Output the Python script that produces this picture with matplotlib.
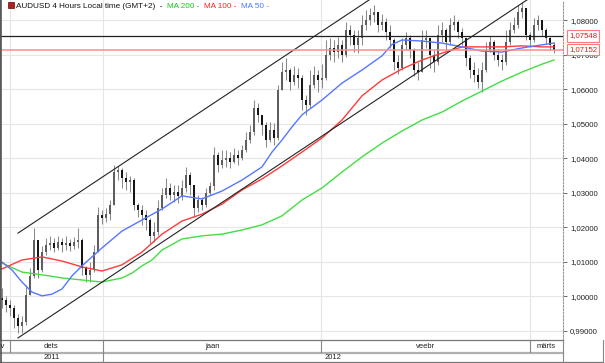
import matplotlib
matplotlib.use('Agg')
import matplotlib.pyplot as plt
import numpy as np
from matplotlib import transforms
from matplotlib.lines import Line2D
from matplotlib.patches import Rectangle
from matplotlib.offsetbox import TextArea, HPacker, AnchoredOffsetbox

plt.rcParams['font.family'] = ['Liberation Sans', 'DejaVu Sans']

# ---------------- data ----------------
title = "AUDUSD 4 Hours Local time (GMT+2)"
ma_titles = ["MA 200", "MA 100", "MA 50"]

first_open = 0.9995
closes = [
    0.9989, 0.9975, 0.9966, 0.9937, 0.9914, 0.9925, 1.0004, 1.0059, 1.0163, 1.0076,
    1.0128, 1.0149, 1.0154, 1.0140, 1.0157, 1.0149, 1.0154, 1.0146, 1.0157, 1.0163,
    1.0082, 1.0062, 1.0076, 1.0128, 1.0236, 1.0227, 1.0238, 1.0265, 1.0360, 1.0366,
    1.0343, 1.0331, 1.0337, 1.0265, 1.0250, 1.0236, 1.0221, 1.0175, 1.0186, 1.0256,
    1.0294, 1.0314, 1.0294, 1.0302, 1.0291, 1.0314, 1.0352, 1.0323, 1.0256, 1.0279,
    1.0265, 1.0299, 1.0320, 1.0410, 1.0381, 1.0395, 1.0401, 1.0389, 1.0410, 1.0401,
    1.0424, 1.0453, 1.0476, 1.0546, 1.0526, 1.0497, 1.0453, 1.0482, 1.0459, 1.0598,
    1.0650, 1.0656, 1.0621, 1.0642, 1.0633, 1.0569, 1.0555, 1.0613, 1.0642, 1.0627,
    1.0633, 1.0700, 1.0720, 1.0708, 1.0729, 1.0700, 1.0772, 1.0758, 1.0729, 1.0749,
    1.0787, 1.0801, 1.0816, 1.0824, 1.0787, 1.0795, 1.0766, 1.0743, 1.0679, 1.0662,
    1.0729, 1.0749, 1.0714, 1.0656, 1.0650, 1.0743, 1.0749, 1.0700, 1.0679, 1.0758,
    1.0772, 1.0737, 1.0787, 1.0795, 1.0766, 1.0749, 1.0691, 1.0656, 1.0642, 1.0621,
    1.0656, 1.0714, 1.0737, 1.0700, 1.0685, 1.0679, 1.0737, 1.0772, 1.0787, 1.0824,
    1.0836, 1.0758, 1.0743, 1.0787, 1.0801, 1.0772, 1.0749, 1.0729, 1.0715]
highs = [
    1.0024, 1.0001, 0.9989, 0.9975, 0.9948, 0.9943, 1.0033, 1.0082, 1.0198, 1.0163,
    1.0146, 1.0169, 1.0175, 1.0169, 1.0175, 1.0169, 1.0175, 1.0166, 1.0172, 1.0198,
    1.0169, 1.0088, 1.0099, 1.0149, 1.0259, 1.0250, 1.0256, 1.0279, 1.0381, 1.0378,
    1.0372, 1.0360, 1.0349, 1.0343, 1.0270, 1.0265, 1.0250, 1.0227, 1.0215, 1.0279,
    1.0314, 1.0343, 1.0328, 1.0323, 1.0323, 1.0337, 1.0375, 1.0360, 1.0323, 1.0294,
    1.0288, 1.0314, 1.0331, 1.0433, 1.0418, 1.0424, 1.0424, 1.0418, 1.0430, 1.0424,
    1.0439, 1.0476, 1.0497, 1.0569, 1.0560, 1.0526, 1.0505, 1.0505, 1.0502, 1.0613,
    1.0679, 1.0691, 1.0662, 1.0668, 1.0662, 1.0642, 1.0584, 1.0656, 1.0668, 1.0656,
    1.0673, 1.0743, 1.0749, 1.0743, 1.0752, 1.0743, 1.0795, 1.0787, 1.0772, 1.0772,
    1.0816, 1.0830, 1.0836, 1.0845, 1.0824, 1.0818, 1.0807, 1.0787, 1.0749, 1.0700,
    1.0749, 1.0766, 1.0758, 1.0720, 1.0679, 1.0772, 1.0772, 1.0749, 1.0714, 1.0787,
    1.0795, 1.0778, 1.0807, 1.0816, 1.0801, 1.0778, 1.0743, 1.0700, 1.0679, 1.0662,
    1.0679, 1.0737, 1.0755, 1.0743, 1.0714, 1.0702, 1.0772, 1.0795, 1.0810, 1.0845,
    1.0853, 1.0830, 1.0766, 1.0807, 1.0816, 1.0801, 1.0778, 1.0752, 1.0737]
lows = [
    0.9966, 0.9954, 0.9943, 0.9908, 0.9893, 0.9893, 0.9917, 1.0012, 1.0053, 1.0053,
    1.0070, 1.0120, 1.0134, 1.0128, 1.0134, 1.0128, 1.0134, 1.0131, 1.0137, 1.0140,
    1.0062, 1.0041, 1.0041, 1.0070, 1.0134, 1.0209, 1.0215, 1.0221, 1.0265, 1.0337,
    1.0314, 1.0308, 1.0302, 1.0250, 1.0230, 1.0207, 1.0192, 1.0154, 1.0157, 1.0178,
    1.0250, 1.0285, 1.0279, 1.0273, 1.0270, 1.0279, 1.0302, 1.0294, 1.0230, 1.0244,
    1.0250, 1.0259, 1.0294, 1.0308, 1.0360, 1.0372, 1.0375, 1.0372, 1.0386, 1.0381,
    1.0395, 1.0418, 1.0444, 1.0468, 1.0505, 1.0468, 1.0433, 1.0447, 1.0439, 1.0453,
    1.0598, 1.0627, 1.0598, 1.0613, 1.0604, 1.0540, 1.0526, 1.0546, 1.0604, 1.0592,
    1.0604, 1.0627, 1.0685, 1.0679, 1.0691, 1.0679, 1.0694, 1.0729, 1.0708, 1.0705,
    1.0729, 1.0772, 1.0787, 1.0795, 1.0766, 1.0772, 1.0743, 1.0720, 1.0656, 1.0644,
    1.0656, 1.0714, 1.0691, 1.0639, 1.0627, 1.0650, 1.0720, 1.0662, 1.0650, 1.0671,
    1.0737, 1.0714, 1.0729, 1.0772, 1.0749, 1.0729, 1.0668, 1.0633, 1.0621, 1.0604,
    1.0592, 1.0650, 1.0708, 1.0685, 1.0668, 1.0656, 1.0671, 1.0729, 1.0763, 1.0778,
    1.0807, 1.0743, 1.0723, 1.0737, 1.0772, 1.0755, 1.0731, 1.0714, 1.0705]

ma200_idx = [0, 5, 10, 15, 20, 25, 30, 32.5, 35, 37.5, 40, 45, 50, 55, 60, 65, 70, 75,
             80, 85, 90, 95, 100, 105, 110, 115, 120, 125, 130, 135, 138]
ma200 = [1.0096, 1.0070, 1.0062, 1.0053, 1.0047, 1.0041, 1.0053, 1.0067, 1.0088, 1.0105,
         1.0134, 1.0166, 1.0175, 1.0180, 1.0192, 1.0207, 1.0233, 1.0279, 1.0314, 1.0360,
         1.0404, 1.0444, 1.0479, 1.0511, 1.0534, 1.0566, 1.0595, 1.0624, 1.0650, 1.0673,
         1.0685]
ma100_idx = [0, 5, 10, 15, 20, 25, 30, 35, 40, 45, 50, 55, 60, 65, 70, 75, 80, 85,
             90, 95, 100, 105, 110, 115, 120, 125, 130, 135, 138]
ma100 = [1.0079, 1.0105, 1.0114, 1.0102, 1.0085, 1.0073, 1.0091, 1.0128, 1.0180, 1.0218,
         1.0238, 1.0267, 1.0308, 1.0340, 1.0378, 1.0418, 1.0459, 1.0511, 1.0581, 1.0627,
         1.0659, 1.0685, 1.0705, 1.0723, 1.0723, 1.0723, 1.0726, 1.0723, 1.0723]
ma50_idx = [0, 2.5, 5, 7.5, 10, 12.5, 15, 17.5, 20, 25, 30, 35, 40, 45, 50, 55, 60, 65,
            67.5, 70, 72.5, 75, 80, 85, 90, 95, 97.5, 100, 105, 110, 115, 120, 125, 130,
            135, 138]
ma50 = [1.0099, 1.0076, 1.0041, 1.0012, 1.0001, 1.0006, 1.0021, 1.0059, 1.0088, 1.0140,
        1.0189, 1.0221, 1.0253, 1.0291, 1.0282, 1.0305, 1.0337, 1.0375, 1.0418, 1.0453,
        1.0491, 1.0526, 1.0569, 1.0618, 1.0656, 1.0697, 1.0730, 1.0743, 1.0740, 1.0734,
        1.0723, 1.0711, 1.0708, 1.0720, 1.0729, 1.0734]

# channel trend lines (anchor bars, prices)
channel_x = [4, 132]
upper_channel = [1.0183, 1.1169]
lower_channel = [0.9879, 1.0865]

levels = [1.07548, 1.07152]
level_labels = ["1,07548", "1,07152"]

yticks = [0.99, 1.00, 1.01, 1.02, 1.03, 1.04, 1.05, 1.06, 1.07, 1.08]
month_starts = [2, 25.25, 79.75, 132]          # dets, jaan, veebr, märts
month_labels = ["nov", "dets", "jaan", "veebr", "märts"]
year_labels = ["2011", "2012"]

# ---------------- figure ----------------
W, H = 605, 363
fig = plt.figure(figsize=(W / 100, H / 100), dpi=100)
ax = fig.add_axes([0, (H - 340) / H, 563 / W, 340 / H])
ax.set_xlim(-0.5, 140.25)
ax.set_ylim(0.9873, 1.0859)

# grid
for v in yticks:
    ax.axhline(v, color='#e6e6e6', lw=0.8, zorder=0)
for m in month_starts:
    ax.axvline(m, color='#e6e6e6', lw=0.8, zorder=0)

# candles
c = np.array(closes)
o = np.array([first_open] + closes[:-1])
h = np.maximum.reduce([np.array(highs), o, c])
l = np.minimum.reduce([np.array(lows), o, c])
xi = np.arange(len(c))
ax.vlines(xi, l, h, color='#8a8a8a', lw=0.75, zorder=2)
up = c >= o
body_lo = np.minimum(o, c)
body_h = np.maximum(np.abs(c - o), 0.00012)
ax.bar(xi[up], body_h[up], bottom=body_lo[up], width=0.65, color='#5e5e5e', lw=0, zorder=3)
ax.bar(xi[~up], body_h[~up], bottom=body_lo[~up], width=0.65, color='#151515', lw=0, zorder=3)

# moving averages
ax.plot(ma200_idx, ma200, color='#44dd44', lw=1.0, zorder=4)
ax.plot(ma100_idx, ma100, color='#ff3b3b', lw=1.0, zorder=4)
ax.plot(ma50_idx, ma50, color='#5577ff', lw=1.0, zorder=4)

# channel
ax.plot(channel_x, upper_channel, color='#222222', lw=0.8, zorder=5)
ax.plot(channel_x, lower_channel, color='#222222', lw=0.8, zorder=5)

# horizontal levels
ax.axhline(levels[0], color='#222222', lw=0.9, zorder=5)
ax.axhline(levels[1], color='#ff8c8c', lw=1.1, zorder=5)

# axis styling
ax.set_xticks([])
ax.yaxis.tick_right()
ax.set_yticks(yticks)
ax.set_yticklabels([f"{v:.5f}".replace('.', ',') for v in yticks])
ax.tick_params(axis='y', direction='out', length=3, width=0.6, colors='#555555',
               labelcolor='#222222', labelsize=5.6, pad=2)
ax.spines['top'].set_visible(False)
ax.spines['left'].set_color('#555555')
ax.spines['left'].set_linewidth(1.2)
ax.spines['bottom'].set_color('#777777')
ax.spines['bottom'].set_linewidth(0.9)
ax.spines['right'].set_color('#999999')
ax.spines['right'].set_linewidth(0.8)
ax.spines['right'].set_linestyle((0, (1.5, 1.5)))

blend_y = transforms.blended_transform_factory(ax.transAxes, ax.transData)
for lv, lab in zip(levels, level_labels):
    ax.text(1.0 + 6 / 563, lv, lab, transform=blend_y, ha='left', va='center',
            fontsize=5.6, color='#d42020', clip_on=False, zorder=10,
            bbox=dict(boxstyle='square,pad=0.3', fc='white', ec='#ff7a7a', lw=0.8))

# title with icon
fig.add_artist(Rectangle((8 / W, 1 - 8 / H), 6 / W, 6 / H, transform=fig.transFigure,
                         fc='#b02020', ec='#700000', lw=0.5))
pieces = [(title + "  -  ", '#111111'), (ma_titles[0] + " -  ", '#11cc11'),
          (ma_titles[1] + " -  ", '#ff2020'), (ma_titles[2] + " -", '#4a78ff')]
boxes = [TextArea(t, textprops=dict(color=col, fontsize=5.9)) for t, col in pieces]
pack = HPacker(children=boxes, align='baseline', pad=0, sep=0)
anch = AnchoredOffsetbox(loc='center left', child=pack, pad=0, frameon=False,
                         bbox_to_anchor=(16 / W, 1 - 6.5 / H),
                         bbox_transform=fig.transFigure, borderpad=0)
fig.add_artist(anch)

# date rows
bt = transforms.blended_transform_factory(ax.transData, fig.transFigure)
def fy(py):
    return 1 - py / H

fig.add_artist(Line2D([0, 563 / W], [fy(352.5), fy(352.5)], transform=fig.transFigure,
                      color='#b0b0b0', lw=1.6))
fig.add_artist(Line2D([0, 603 / W], [fy(362.3), fy(362.3)], transform=fig.transFigure,
                      color='#777777', lw=0.9))
fig.add_artist(Line2D([563 / W, 563 / W], [fy(340), fy(363)], transform=fig.transFigure,
                      color='#888888', lw=0.8))
fig.add_artist(Line2D([603 / W, 603 / W], [fy(340), fy(363)], transform=fig.transFigure,
                      color='#888888', lw=0.8))
fig.add_artist(Line2D([0.5 / W, 0.5 / W], [0, 1], transform=fig.transFigure,
                      color='#555555', lw=1.2))
for m in month_starts:
    fig.add_artist(Line2D([m, m], [fy(340), fy(352)], transform=bt, color='#888888', lw=0.8))
fig.add_artist(Line2D([month_starts[1]] * 2, [fy(353), fy(362)], transform=bt,
                      color='#888888', lw=0.8))

x0, x1 = ax.get_xlim()
mid = [month_starts[0] - 2.7, (x0 + month_starts[1]) / 2,
       (month_starts[1] + month_starts[2]) / 2,
       (month_starts[2] + month_starts[3]) / 2,
       (month_starts[3] + x1) / 2]
for xm, lab in zip(mid, month_labels):
    fig.text(xm, fy(346.3), lab, transform=bt, ha='center', va='center',
             fontsize=5.5, color='#222222')
ymid = [(x0 + month_starts[1]) / 2, (month_starts[1] + x1) / 2]
for xm, lab in zip(ymid, year_labels):
    fig.text(xm, fy(357.5), lab, transform=bt, ha='center', va='center',
             fontsize=5.5, color='#222222')

fig.savefig('out.png', dpi=100)
